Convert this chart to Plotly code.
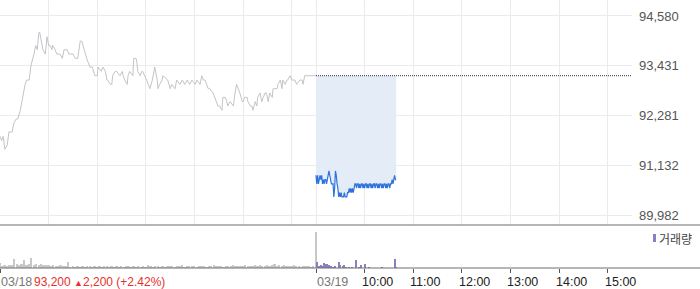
import plotly.graph_objects as go

# ---------------- data ----------------
prev_close = 93200

# previous day (03/18) minutes since 09:00 and price
prev_min = [0, 2, 4, 6, 9, 11, 15, 17, 20, 22,
            25, 27, 28, 31, 33, 36, 38, 39, 42, 44,
            46, 48, 49, 52, 53, 56, 58, 60, 62, 64,
            65, 68, 70, 73, 74, 77, 79, 83, 85, 90,
            93, 96, 99, 101, 104, 105, 107, 109, 111, 114,
            117, 120, 121, 125, 127, 130, 132, 133, 136, 138,
            139, 142, 144, 148, 151, 152, 154, 157, 158, 160,
            163, 164, 165, 168, 169, 170, 173, 175, 176, 179,
            181, 183, 185, 188, 191, 194, 195, 197, 200, 201,
            206, 207, 210, 212, 216, 218, 222, 225, 228, 231,
            234, 237, 241, 243, 247, 249, 251, 253, 257, 259,
            263, 265, 269, 271, 274, 275, 278, 280, 281, 284,
            288, 290, 292, 296, 299, 300, 302, 305, 306, 309,
            311, 312, 315, 317, 318, 321, 323, 325, 327, 329,
            331, 333, 336, 337, 339, 342, 343, 346, 348, 349,
            352, 354, 355, 358, 360, 364, 366, 370, 373, 374,
            376, 379, 390]
prev_price = [91800, 91700, 91800, 91500, 91600, 91900, 91900, 92100, 92200, 92200,
              92400, 92600, 92700, 93000, 93100, 93100, 93400, 93500, 93700, 93900,
              93800, 94200, 94200, 93900, 93800, 93700, 94100, 93900, 93900, 93800,
              93900, 93800, 93700, 93700, 93700, 93600, 93800, 93800, 93700, 93700,
              93600, 93600, 94000, 94000, 93800, 93700, 93600, 93500, 93400, 93400,
              93200, 93200, 93400, 93300, 93400, 93300, 93100, 93100, 93000, 93000,
              93200, 93300, 93300, 93200, 93300, 93200, 93100, 93000, 93200, 93300,
              93200, 93200, 93600, 93600, 93500, 93300, 93200, 93300, 93300, 93200,
              93100, 93000, 92900, 93100, 93400, 93100, 92900, 93000, 93100, 93200,
              93100, 93100, 92900, 93000, 92900, 93100, 93000, 93100, 93000, 93100,
              93000, 93100, 93000, 93100, 93000, 93200, 93100, 93100, 92900, 92900,
              92800, 92700, 92500, 92500, 92400, 92700, 92700, 92600, 92500, 92600,
              92500, 92800, 93000, 92800, 92600, 92600, 92700, 92700, 92600, 92500,
              92500, 92400, 92600, 92500, 92700, 92800, 92600, 92700, 92800, 92800,
              92600, 92800, 92700, 92900, 92900, 92900, 93000, 93100, 92900, 93100,
              93000, 93100, 93100, 93200, 93100, 93100, 93000, 93100, 93100, 93000,
              93200, 93200, 93200]

# today (03/19), one point per minute from 09:00 (axis minute 390)
today_min = list(range(390, 490))
today_price = [90900, 90700, 90900, 90700, 90800, 90900, 90800, 90900, 90700, 90800,
               90700, 90800, 90800, 90700, 90800, 90900, 91000, 90900, 90800, 90700,
               90700, 90700, 90400, 90600, 91000, 90900, 90700, 90600, 90400, 90500,
               90400, 90500, 90400, 90400, 90400, 90500, 90400, 90400, 90400, 90500,
               90500, 90600, 90500, 90600, 90500, 90600, 90500, 90600, 90700, 90700,
               90600, 90700, 90700, 90600, 90700, 90600, 90700, 90700, 90600, 90700,
               90600, 90700, 90700, 90600, 90700, 90600, 90700, 90700, 90600, 90700,
               90600, 90700, 90700, 90600, 90700, 90700, 90600, 90700, 90600, 90700,
               90700, 90600, 90700, 90600, 90700, 90700, 90600, 90700, 90600, 90700,
               90700, 90600, 90700, 90700, 90800, 90700, 90800, 90900, 90800, 90800]

# volume (thousand shares)
prev_vol_min = list(range(0, 390, 3))
prev_vol = [5, 2, 3, 2, 3, 3, 9, 4, 3, 4,
            8, 3, 4, 10, 3, 4, 3, 4, 3, 3,
            3, 2, 3, 2, 2, 3, 2, 2, 6, 1,
            2, 1, 2, 1, 2, 1, 2, 2, 1, 2,
            1, 2, 1, 2, 2, 1, 2, 1, 2, 1,
            2, 1, 2, 2, 1, 2, 1, 2, 1, 2,
            1, 3, 2, 1, 2, 2, 1, 2, 1, 2,
            2, 2, 1, 2, 2, 3, 1, 2, 2, 2,
            2, 1, 2, 2, 2, 1, 2, 2, 3, 2,
            2, 2, 1, 2, 2, 2, 3, 2, 2, 2,
            2, 3, 2, 2, 2, 3, 2, 3, 2, 2,
            3, 2, 3, 4, 2, 3, 2, 3, 2, 2,
            2, 3, 2, 2, 1, 2, 2, 2, 1, 2]
open_vol_min = [390]
open_vol = [36]
today_vol_min = [391, 392, 394, 396, 398, 400, 402, 404, 406, 408,
                 411, 413, 414, 418, 419, 420, 423, 425, 427, 431,
                 434, 439, 443, 446, 450, 455, 471, 487, 489]
today_vol = [6, 2, 2, 3, 2, 5, 4, 4, 3, 2,
             1, 2, 2, 6, 3, 3, 2, 3, 1, 1,
             1, 8, 1, 3, 4, 1, 1, 9, 1]

y_ticks = [89982, 91132, 92281, 93431, 94580]
x_grid = [0, 60, 120, 180, 240, 300, 360, 390, 450, 510, 570, 630, 690, 750]
x_ticks = [0, 390, 450, 510, 570, 630, 690, 750]
time_labels = ["10:00", "11:00", "12:00", "13:00", "14:00", "15:00"]
time_label_min = [450, 510, 570, 630, 690, 750]

FONT = "Liberation Sans, Arial, sans-serif"
W, H = 700, 289
PLOT_W = 632
PLOT_H = 268

fig = go.Figure()

# today fill base + line
fig.add_trace(go.Scatter(x=today_min, y=[prev_close] * len(today_min), mode="lines",
                         line=dict(width=0, color="rgba(0,0,0,0)"), hoverinfo="skip"))
fig.add_trace(go.Scatter(x=today_min, y=today_price, mode="lines",
                         line=dict(color="#2e73dc", width=1.2),
                         fill="tonexty", fillcolor="#e4ecf8", hoverinfo="skip"))
# previous day line
fig.add_trace(go.Scatter(x=prev_min, y=prev_price, mode="lines", line_shape="linear",
                         line=dict(color="#c2c4c9", width=1), hoverinfo="skip"))
# previous close dotted reference
fig.add_trace(go.Scatter(x=[390, 780], y=[prev_close, prev_close], mode="lines",
                         line=dict(color="#333333", width=1, dash="1px,1px"), hoverinfo="skip"))

# volume bars
fig.add_trace(go.Bar(x=prev_vol_min, y=prev_vol, width=2.2, marker=dict(color="#c8c8c8", line=dict(width=0)),
                     xaxis="x2", yaxis="y2", hoverinfo="skip"))
fig.add_trace(go.Bar(x=open_vol_min, y=open_vol, width=1.0, marker=dict(color="#c8c8c8", line=dict(width=0)),
                     xaxis="x2", yaxis="y2", hoverinfo="skip"))
fig.add_trace(go.Bar(x=today_vol_min, y=today_vol, width=1.2, marker=dict(color="#8e7cc6", line=dict(width=0)),
                     xaxis="x2", yaxis="y2", hoverinfo="skip"))

main_bottom = (PLOT_H - 225) / PLOT_H
fig.update_layout(
    width=W, height=H,
    margin=dict(l=0, r=W - PLOT_W, t=0, b=H - PLOT_H),
    paper_bgcolor="white", plot_bgcolor="white",
    showlegend=False, bargap=0,
    font=dict(family=FONT, size=13, color="#555"),
    xaxis=dict(domain=[0, 1], range=[0, 780], anchor="y", tickvals=x_grid,
               showticklabels=False, ticks="", showgrid=True, gridcolor="#ebebeb",
               gridwidth=1, zeroline=False, showline=False),
    yaxis=dict(domain=[main_bottom, 1], range=[89751, 94949], side="right",
               tickvals=y_ticks, ticktext=[f"{v:,}" for v in y_ticks],
               showgrid=True, gridcolor="#ebebeb", zeroline=False, ticks="",
               ticklabelstandoff=6, tickfont=dict(size=13, color="#555", family=FONT)),
    xaxis2=dict(domain=[0, 1], range=[0, 780], anchor="y2", tickvals=x_ticks,
                showticklabels=False, ticks="outside", ticklen=4, tickcolor="#555",
                tickwidth=1, showgrid=False, zeroline=False, showline=False),
    yaxis2=dict(domain=[0, 40 / PLOT_H], range=[0, 40], visible=False),
)

# separator + volume axis lines across full width
for yp in [main_bottom, 0]:
    fig.add_shape(type="line", xref="paper", yref="paper", x0=0, x1=W / PLOT_W,
                  y0=yp, y1=yp, line=dict(color="#6e6e6e", width=1))

# legend: purple swatch + 거래량
fig.add_shape(type="rect", xref="paper", yref="paper",
              x0=653 / PLOT_W, x1=656 / PLOT_W,
              y0=(PLOT_H - 242) / PLOT_H, y1=(PLOT_H - 234) / PLOT_H,
              line=dict(width=0), fillcolor="#8e7cc6")
fig.add_annotation(text="거래량", xref="paper", yref="paper", x=657 / PLOT_W,
                   y=(PLOT_H - 238) / PLOT_H, xanchor="left", yanchor="middle",
                   showarrow=False, font=dict(family="Noto Sans CJK KR", size=12, color="#444"))

label_y = (PLOT_H - 282) / PLOT_H
fig.add_annotation(text="03/18", xref="paper", yref="paper", x=0, y=label_y,
                   xanchor="left", yanchor="middle", showarrow=False, xshift=-1,
                   font=dict(family=FONT, size=12.5, color="#777"))
fig.add_annotation(text="93,200 <span style='font-size:9px'>▲</span>2,200 (+2.42%)",
                   xref="paper", yref="paper", x=32 / PLOT_W, y=label_y,
                   xanchor="left", yanchor="middle", showarrow=False,
                   font=dict(family=FONT, size=12, color="#e8302c"))
fig.add_annotation(text="03/19", xref="x2", yref="paper", x=390, y=label_y,
                   xanchor="left", yanchor="middle", showarrow=False, xshift=-1,
                   font=dict(family=FONT, size=12.5, color="#777"))
for t, m in zip(time_labels, time_label_min):
    fig.add_annotation(text=t, xref="x2", yref="paper", x=m, y=label_y,
                       xanchor="left", yanchor="middle", showarrow=False, xshift=-5,
                       font=dict(family=FONT, size=12.5, color="#222"))

fig.write_html("out.html")
